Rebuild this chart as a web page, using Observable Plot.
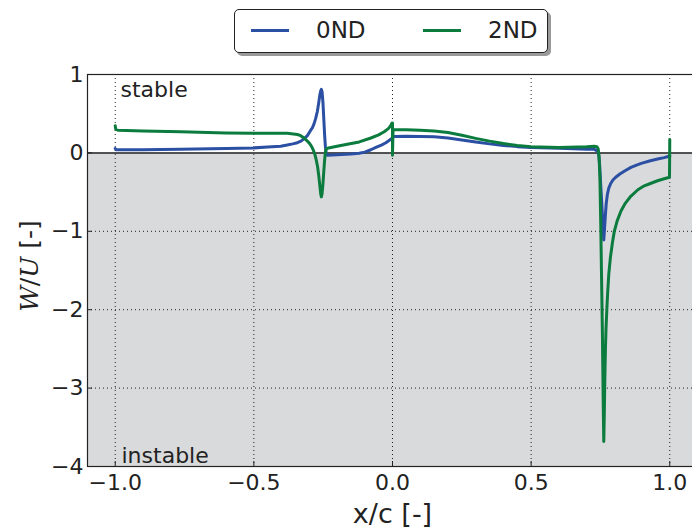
<!DOCTYPE html>
<html>
<head>
<meta charset="utf-8">
<script src="https://cdn.jsdelivr.net/npm/d3@7"></script>
<script src="https://cdn.jsdelivr.net/npm/@observablehq/plot@0.6"></script>
<style>
  html, body { margin: 0; padding: 0; overflow: hidden; background: #fff; }
  #wrap { position: relative; width: 700px; height: 529px; overflow: hidden; }
  #wrap svg { max-width: none !important; display: block; }
  #legend { position: absolute; left: 234px; top: 9px; width: 312px; height: 42px;
    border: 1.3px solid #222; border-radius: 5px; background: #fff;
    box-shadow: 3px 3px 0 #9a9a9a; font-family: "DejaVu Sans", sans-serif; font-size: 23px; color: #222; }
  .sw { position: absolute; height: 3px; width: 38px; top: 19px; }
  .lt { position: absolute; top: 9px; line-height: 23px; white-space: nowrap; }
</style>
</head>
<body>
<div id="wrap"><div id="legend"></div></div>
<script>
// ---- data ----
const seriesNames = ["0ND", "2ND"];
const seriesColors = ["#2b50a3", "#0b7c3e"];
const xTicks = [-1.0, -0.5, 0.0, 0.5, 1.0];
const yTicks = [1, 0, -1, -2, -3, -4];
const yGrid = [-1, -2, -3];
const xLimits = [-1.1, 1.1];
const yLimits = [-4, 1];
const regionLabels = ["stable", "instable"];
const xLabel = "x/c [-]";

const x0ND = [-1.0, -0.997, -0.9, -0.764, -0.6, -0.5, -0.45, -0.403, -0.38, -0.36, -0.343, -0.33, -0.319, -0.307, -0.295, -0.289, -0.283, -0.277, -0.271, -0.266, -0.262, -0.259, -0.2565, -0.254, -0.251, -0.248, -0.245, -0.242, -0.239, -0.235, -0.2, -0.15, -0.12, -0.1, -0.078, -0.06, -0.04, -0.024, -0.01, 0.0, 0.004, 0.05, 0.1, 0.15, 0.2, 0.25, 0.3, 0.35, 0.4, 0.45, 0.5, 0.6, 0.7, 0.728, 0.740, 0.744, 0.747, 0.750, 0.754, 0.758, 0.762, 0.765, 0.768, 0.771, 0.775, 0.780, 0.787, 0.795, 0.805, 0.82, 0.84, 0.86, 0.88, 0.90, 0.93, 0.96, 0.98, 1.0];
const y0ND = [0.056, 0.04, 0.04, 0.045, 0.055, 0.064, 0.075, 0.086, 0.1, 0.115, 0.13, 0.15, 0.18, 0.22, 0.29, 0.32, 0.37, 0.44, 0.53, 0.64, 0.74, 0.79, 0.81, 0.78, 0.65, 0.45, 0.24, 0.08, -0.01, -0.03, -0.025, -0.015, -0.005, 0.01, 0.04, 0.07, 0.1, 0.13, 0.165, 0.19, 0.21, 0.212, 0.21, 0.205, 0.19, 0.165, 0.14, 0.115, 0.095, 0.08, 0.07, 0.058, 0.048, 0.045, 0.02, -0.03, -0.15, -0.35, -0.6, -0.86, -1.11, -0.95, -0.78, -0.64, -0.53, -0.45, -0.39, -0.345, -0.31, -0.27, -0.225, -0.185, -0.155, -0.13, -0.1, -0.075, -0.06, -0.04];

const x2ND = [-1.0, -0.998, -0.99, -0.9, -0.764, -0.6, -0.502, -0.379, -0.343, -0.331, -0.319, -0.307, -0.3, -0.295, -0.29, -0.285, -0.28, -0.275, -0.27, -0.266, -0.262, -0.259, -0.2565, -0.254, -0.251, -0.248, -0.245, -0.242, -0.239, -0.235, -0.2, -0.163, -0.12, -0.078, -0.05, -0.03, -0.015, -0.006, -0.002, 0.0, 0.0, 0.002, 0.05, 0.1, 0.15, 0.2, 0.25, 0.3, 0.35, 0.4, 0.45, 0.5, 0.6, 0.7, 0.728, 0.737, 0.742, 0.745, 0.748, 0.751, 0.754, 0.757, 0.760, 0.762, 0.764, 0.766, 0.768, 0.770, 0.773, 0.776, 0.780, 0.786, 0.793, 0.800, 0.810, 0.824, 0.84, 0.86, 0.885, 0.908, 0.93, 0.956, 0.98, 0.999, 1.0];
const y2ND = [0.345, 0.30, 0.29, 0.28, 0.27, 0.255, 0.25, 0.25, 0.235, 0.22, 0.19, 0.15, 0.125, 0.1, 0.07, 0.03, -0.02, -0.09, -0.18, -0.29, -0.42, -0.52, -0.56, -0.52, -0.4, -0.25, -0.1, 0.01, 0.05, 0.06, 0.085, 0.11, 0.14, 0.19, 0.23, 0.27, 0.31, 0.35, 0.38, 0.38, -0.03, 0.30, 0.295, 0.29, 0.28, 0.26, 0.225, 0.185, 0.15, 0.12, 0.095, 0.08, 0.07, 0.08, 0.085, 0.08, 0.05, -0.05, -0.3, -0.9, -1.6, -2.3, -3.2, -3.68, -3.3, -2.85, -2.5, -2.25, -2.0, -1.78, -1.55, -1.33, -1.15, -1.0, -0.87, -0.74, -0.64, -0.55, -0.47, -0.42, -0.39, -0.355, -0.33, -0.31, 0.17];

// ---- build tables ----
const series = [
  x0ND.map((x, i) => ({x, y: y0ND[i], s: seriesNames[0]})),
  x2ND.map((x, i) => ({x, y: y2ND[i], s: seriesNames[1]}))
];
const instableRegion = [{x1: xLimits[0], x2: xLimits[1], y1: yLimits[0], y2: 0}];

const font = "DejaVu Sans, sans-serif";
const gridStyle = {stroke: "#222", strokeOpacity: 1, strokeWidth: 1, strokeDasharray: "1,3"};

const chart = Plot.plot({
  width: 700,
  height: 529,
  marginLeft: 87,
  marginRight: 3,
  marginTop: 74,
  marginBottom: 63,
  style: {fontFamily: font, fontSize: "22px", color: "#222", background: "transparent", overflow: "visible", maxWidth: "none"},
  x: {domain: xLimits},
  y: {domain: yLimits},
  marks: [
    Plot.rect(instableRegion, {x1: "x1", x2: "x2", y1: "y1", y2: "y2", fill: "#d9dadc"}),
    Plot.gridX(xTicks, gridStyle),
    Plot.gridY(yGrid, gridStyle),
    Plot.ruleY([0], {stroke: "#222", strokeWidth: 1.5}),
    ...series.map((d, i) => Plot.line(d, {x: "x", y: "y", stroke: seriesColors[i], strokeWidth: 3, strokeLinejoin: "round"})),
    Plot.text([regionLabels[0]], {frameAnchor: "top-left", lineAnchor: "top", dx: 33, dy: 7, fontSize: 22, fill: "#222"}),
    Plot.text([regionLabels[1]], {frameAnchor: "bottom-left", lineAnchor: "bottom", dx: 34, dy: -4, fontSize: 22, fill: "#222"}),
    Plot.axisX(xTicks, {tickSize: -5, tickPadding: 13, tickFormat: d3.format(".1f"), fontSize: 22, label: null, stroke: "#222"}),
    Plot.axisY(yTicks, {anchor: "left", tickSize: -5, tickPadding: 9, tickFormat: d3.format("d"), fontSize: 22, label: null, stroke: "#222"}),
    Plot.text([xLabel], {frameAnchor: "bottom", lineAnchor: "top", dy: 37, fontSize: 27, fill: "#222"}),
    Plot.frame({stroke: "#222", strokeWidth: 1.2})
  ]
});

const wrap = document.getElementById("wrap");
wrap.insertBefore(chart, wrap.firstChild);

// y-axis label with math styling
const svg = d3.select(chart);
const yl = svg.append("text")
  .attr("transform", "translate(38,266) rotate(-90)")
  .attr("text-anchor", "middle")
  .attr("font-size", 25)
  .attr("fill", "#222");
yl.append("tspan").attr("font-family", "DejaVu Serif, serif").attr("font-style", "italic").text("W");
yl.append("tspan").attr("font-family", "DejaVu Serif, serif").text("/");
yl.append("tspan").attr("font-family", "DejaVu Serif, serif").attr("font-style", "italic").text("U");
yl.append("tspan").attr("font-family", font).text(" [-]");

// legend
const legend = document.getElementById("legend");
const swLeft = [16, 188], txtLeft = [81, 253];
seriesNames.forEach((name, i) => {
  const sw = document.createElement("div");
  sw.className = "sw"; sw.style.left = swLeft[i] + "px"; sw.style.background = seriesColors[i];
  legend.appendChild(sw);
  const t = document.createElement("div");
  t.className = "lt"; t.style.left = txtLeft[i] + "px"; t.textContent = name;
  legend.appendChild(t);
});
</script>
</body>
</html>
